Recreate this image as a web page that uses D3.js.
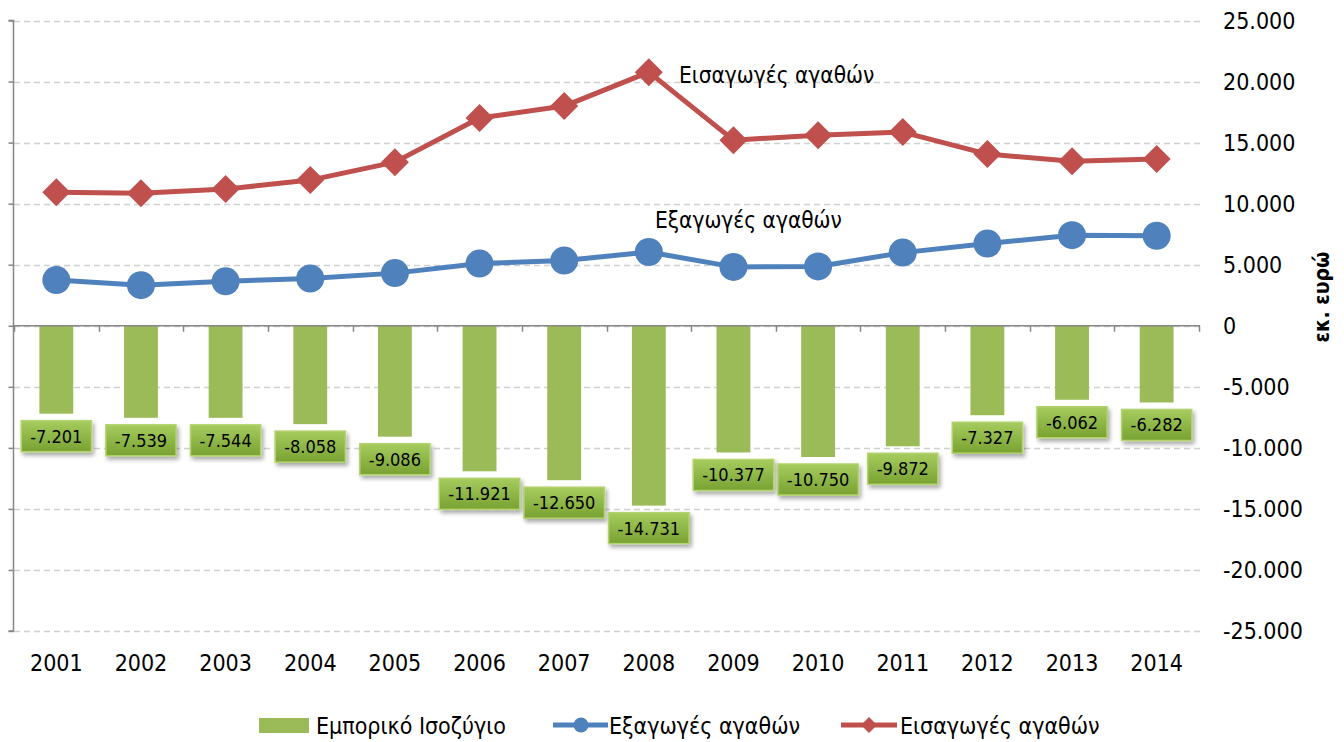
<!DOCTYPE html>
<html>
<head>
<meta charset="utf-8">
<script src="https://cdn.jsdelivr.net/npm/d3@7/dist/d3.min.js"></script>
<style>
  html, body { margin: 0; padding: 0; background: #fff; }
  svg { display: block; }
  text { font-family: "DejaVu Sans Condensed", "DejaVu Sans", sans-serif; font-stretch: condensed; fill: #000; }
</style>
</head>
<body>
<svg id="chart" width="1344" height="742"></svg>
<script>
// Years on the category axis
const years = ["2001","2002","2003","2004","2005","2006","2007","2008","2009","2010","2011","2012","2013","2014"];
// Trade balance (εκ. ευρώ)
const balance = [-7201, -7539, -7544, -8058, -9086, -11921, -12650, -14731, -10377, -10750, -9872, -7327, -6062, -6282];
// Exports of goods (εκ. ευρώ)
const exportsVals = [3740, 3320, 3640, 3870, 4310, 5090, 5340, 6040, 4820, 4860, 5990, 6730, 7420, 7370];
// Imports of goods (εκ. ευρώ)
const importsVals = [10940, 10860, 11190, 11930, 13400, 17010, 17990, 20770, 15200, 15610, 15860, 14060, 13480, 13650];
// Value axis ticks
const yTicks = [-25000, -20000, -15000, -10000, -5000, 0, 5000, 10000, 15000, 20000, 25000];

const seriesNames = { balance: "Εμπορικό Ισοζύγιο", exports: "Εξαγωγές αγαθών", imports: "Εισαγωγές αγαθών" };
const colors = { bar: "#9bbb59", exports: "#4f81bd", imports: "#c0504d", axis: "#868686", grid: "#d0d0d0" };

const svg = d3.select("#chart");
// Greek number style: dot as thousands separator, plain hyphen for negatives
const fmt = v => d3.format(",")(v).replace(/,/g, ".").replace(/\u2212/g, "-");

const x = d3.scaleBand().domain(years).range([14, 1199]).paddingInner(0.6).paddingOuter(0.3);
const cx = d => x(d) + x.bandwidth() / 2;
const y = d3.scaleLinear().domain([-25000, 25000]).range([631, 20.5]);

// defs: label gradient + shadow
const defs = svg.append("defs");
const grad = defs.append("linearGradient").attr("id", "lblGrad").attr("x1", 0).attr("y1", 0).attr("x2", 0).attr("y2", 1);
grad.append("stop").attr("offset", "0%").attr("stop-color", "#a6cc5e");
grad.append("stop").attr("offset", "100%").attr("stop-color", "#78a232");
const shadow = defs.append("filter").attr("id", "lblShadow").attr("x", "-20%").attr("y", "-20%").attr("width", "150%").attr("height", "170%");
shadow.append("feDropShadow").attr("dx", 2).attr("dy", 3).attr("stdDeviation", 2).attr("flood-color", "#000").attr("flood-opacity", 0.35);

// gridlines
svg.append("g").selectAll("line").data(yTicks).join("line")
  .attr("x1", 14).attr("x2", 1200)
  .attr("y1", d => Math.round(y(d)) + 0.5).attr("y2", d => Math.round(y(d)) + 0.5)
  .attr("stroke", colors.grid).attr("stroke-width", 1.5).attr("stroke-dasharray", "6,4");

// bars
svg.append("g").selectAll("rect").data(years).join("rect")
  .attr("x", d => x(d))
  .attr("width", x.bandwidth())
  .attr("y", y(0))
  .attr("height", (d, i) => y(balance[i]) - y(0))
  .attr("fill", colors.bar);

// left value axis line with ticks
const axisLeft = d3.axisLeft(y).tickValues(yTicks).tickSize(5).tickFormat("");
const gLeft = svg.append("g").attr("transform", "translate(13.5,0)").call(axisLeft);
gLeft.select(".domain").attr("stroke", colors.axis).attr("stroke-width", 1.5).attr("d", `M-5,${y(25000)}H0V${y(-25000)}H-5`);
gLeft.selectAll(".tick line").attr("stroke", colors.axis).attr("stroke-width", 1.5);

// category axis at zero with boundary ticks
const edges = years.map(d => x(d) - x.step() * x.paddingInner() / 2).concat([1199]);
const gZero = svg.append("g");
gZero.append("line").attr("x1", 13).attr("x2", 1200).attr("y1", y(0)).attr("y2", y(0))
  .attr("stroke", colors.axis).attr("stroke-width", 1.5);
gZero.selectAll("line.t").data(edges).join("line").attr("class", "t")
  .attr("x1", d => Math.round(d) + 0.5).attr("x2", d => Math.round(d) + 0.5)
  .attr("y1", y(0)).attr("y2", y(0) + 6)
  .attr("stroke", colors.axis).attr("stroke-width", 1.5);

// right-hand value labels
svg.append("g").selectAll("text").data(yTicks).join("text")
  .attr("x", 1223).attr("y", d => y(d)).attr("dy", "0.36em")
  .attr("font-size", 23).text(d => fmt(d));

// year labels
svg.append("g").selectAll("text").data(years).join("text")
  .attr("x", d => cx(d)).attr("y", 671).attr("text-anchor", "middle")
  .attr("font-size", 23).text(d => d);

// axis title
svg.append("text").attr("transform", "translate(1329,297) rotate(-90)")
  .attr("text-anchor", "middle").attr("font-size", 21).attr("font-weight", "bold").text("εκ. ευρώ");

// lines
const line = vals => d3.line().x((d, i) => cx(years[i])).y(d => y(d))(vals);
svg.append("path").attr("d", line(importsVals)).attr("fill", "none").attr("stroke", colors.imports).attr("stroke-width", 5).attr("stroke-linejoin", "round");
svg.append("path").attr("d", line(exportsVals)).attr("fill", "none").attr("stroke", colors.exports).attr("stroke-width", 5).attr("stroke-linejoin", "round");

// markers
svg.append("g").selectAll("circle").data(exportsVals).join("circle")
  .attr("cx", (d, i) => cx(years[i])).attr("cy", d => y(d)).attr("r", 14).attr("fill", colors.exports);
const diamond = r => `M0,${-r}L${r},0L0,${r}L${-r},0Z`;
svg.append("g").selectAll("path").data(importsVals).join("path")
  .attr("transform", (d, i) => `translate(${cx(years[i])},${y(d)})`)
  .attr("d", diamond(14)).attr("fill", colors.imports);

// series labels
svg.append("text").attr("x", 679).attr("y", 75).attr("dy", "0.36em").attr("font-size", 22.5).text(seriesNames.imports);
svg.append("text").attr("x", 655).attr("y", 220).attr("dy", "0.36em").attr("font-size", 22.5).text(seriesNames.exports);

// value labels under bars
const lbl = svg.append("g").selectAll("g").data(years).join("g");
lbl.each(function (d, i) {
  const g = d3.select(this);
  const rect = g.append("rect");
  const t = g.append("text").attr("x", cx(d)).attr("y", y(balance[i]) + 7 + 15.5).attr("dy", "0.36em")
    .attr("text-anchor", "middle").attr("font-size", 18).text(fmt(balance[i]));
  const w = t.node().getComputedTextLength() + 18;
  rect.attr("x", cx(d) - w / 2).attr("y", y(balance[i]) + 7).attr("width", w).attr("height", 31)
    .attr("fill", "url(#lblGrad)").attr("stroke", "#b3d36e").attr("stroke-width", 1.5)
    .attr("filter", "url(#lblShadow)");
});

// legend
const lg = svg.append("g");
lg.append("rect").attr("x", 259).attr("y", 718).attr("width", 50).attr("height", 15).attr("fill", colors.bar);
lg.append("text").attr("x", 316).attr("y", 726).attr("dy", "0.36em").attr("font-size", 23).text(seriesNames.balance);
lg.append("line").attr("x1", 553).attr("x2", 608).attr("y1", 725).attr("y2", 725).attr("stroke", colors.exports).attr("stroke-width", 5);
lg.append("circle").attr("cx", 581).attr("cy", 725).attr("r", 7.5).attr("fill", colors.exports);
lg.append("text").attr("x", 609).attr("y", 726).attr("dy", "0.36em").attr("font-size", 23).text(seriesNames.exports);
lg.append("line").attr("x1", 841).attr("x2", 897).attr("y1", 725).attr("y2", 725).attr("stroke", colors.imports).attr("stroke-width", 5);
lg.append("path").attr("transform", "translate(869,725)").attr("d", diamond(8)).attr("fill", colors.imports);
lg.append("text").attr("x", 900).attr("y", 726).attr("dy", "0.36em").attr("font-size", 23).text(seriesNames.imports);
</script>
</body>
</html>
